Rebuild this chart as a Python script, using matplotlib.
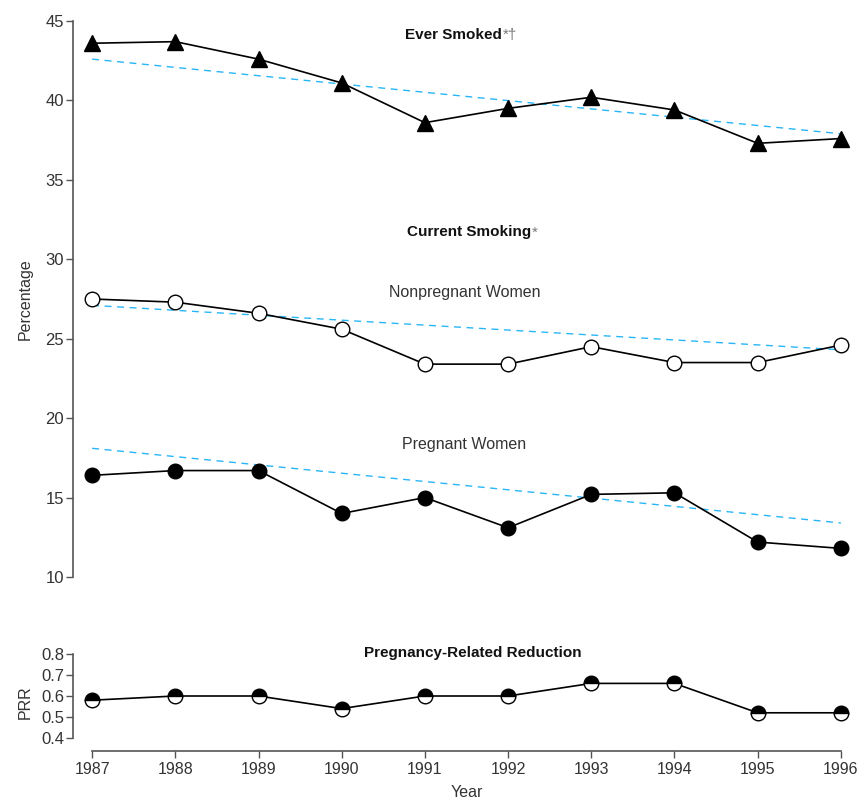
import matplotlib
matplotlib.use("Agg")
import matplotlib.pyplot as plt

plt.rcParams['font.family'] = ['Liberation Sans', 'DejaVu Sans']

years = [1987, 1988, 1989, 1990, 1991, 1992, 1993, 1994, 1995, 1996]
ever_smoked = [43.6, 43.7, 42.6, 41.1, 38.6, 39.5, 40.2, 39.4, 37.3, 37.6]
nonpregnant = [27.5, 27.3, 26.6, 25.6, 23.4, 23.4, 24.5, 23.5, 23.5, 24.6]
pregnant = [16.4, 16.7, 16.7, 14.0, 15.0, 13.1, 15.2, 15.3, 12.2, 11.8]
prr = [0.58, 0.60, 0.60, 0.54, 0.60, 0.60, 0.66, 0.66, 0.52, 0.52]

trend_years = [1987, 1996]
ever_trend = [42.6, 37.9]
nonpreg_trend = [27.1, 24.3]
preg_trend = [18.1, 13.4]

y_ticks = [10, 15, 20, 25, 30, 35, 40, 45]
prr_ticks = [0.4, 0.5, 0.6, 0.7, 0.8]

W, H = 867, 801
fig = plt.figure(figsize=(W / 100, H / 100), dpi=100)

axis_grey = '#555555'
text_grey = '#333333'
trend_color = '#29b6f6'

left = 73 / W
right = 860 / W
x0, x1 = 1986.77, 1996.23

# main panel: percentages
ax = fig.add_axes([left, 1 - 577 / H, right - left, (577 - 21) / H])
ax.set_xlim(x0, x1)
ax.set_ylim(10, 45)
for s in ['top', 'right', 'bottom']:
    ax.spines[s].set_visible(False)
ax.spines['left'].set_color(axis_grey)
ax.spines['left'].set_linewidth(1.2)
ax.set_xticks([])
ax.set_yticks(y_ticks)
ax.tick_params(axis='y', direction='out', length=5, width=1, color=axis_grey,
               labelsize=12, labelcolor=text_grey, pad=1.5)

dash = dict(color=trend_color, lw=1, linestyle=(0, (5, 4)))
ax.plot(trend_years, ever_trend, **dash)
ax.plot(trend_years, nonpreg_trend, **dash)
ax.plot(trend_years, preg_trend, **dash)

ax.plot(years, ever_smoked, color='black', lw=1.2, marker='^', ms=11,
        mfc='black', mec='black', clip_on=False, zorder=3)
ax.plot(years, nonpregnant, color='black', lw=1.2, marker='o', ms=10.5,
        mfc='white', mec='black', mew=1, clip_on=False, zorder=3)
ax.plot(years, pregnant, color='black', lw=1.2, marker='o', ms=10.5,
        mfc='black', mec='black', clip_on=False, zorder=3)

ax.set_ylabel('Percentage', fontsize=11.5, color=text_grey, labelpad=9)


def fig_text(xp, yp, s, **kw):
    fig.text(xp / W, 1 - yp / H, s, **kw)


fig_text(502, 35, 'Ever Smoked', ha='right', va='center', fontsize=11,
         fontweight='bold', color='#111111')
fig_text(503, 35, '*†', ha='left', va='center', fontsize=11, color='#777777')
fig_text(531, 232, 'Current Smoking', ha='right', va='center', fontsize=11,
         fontweight='bold', color='#111111')
fig_text(532, 233, '*', ha='left', va='center', fontsize=11, color='#777777')
fig_text(465, 293, 'Nonpregnant Women', ha='center', va='center', fontsize=11.5,
         color=text_grey)
fig_text(464, 445, 'Pregnant Women', ha='center', va='center', fontsize=11.5,
         color=text_grey)
fig_text(473, 653, 'Pregnancy-Related Reduction', ha='center', va='center',
         fontsize=11, fontweight='bold', color='#111111')

# PRR panel
bx = fig.add_axes([left, 1 - 751 / H, right - left, (751 - 654) / H])
bx.set_xlim(x0, x1)
prr_lo = 0.4 - 13 / 210
bx.set_ylim(prr_lo, 0.8)
for s in ['top', 'right']:
    bx.spines[s].set_visible(False)
for s in ['left', 'bottom']:
    bx.spines[s].set_color(axis_grey)
    bx.spines[s].set_linewidth(1.2)
bx.spines['left'].set_bounds(0.4, 0.8)
bx.spines['bottom'].set_bounds(years[0], years[-1])
bx.set_yticks(prr_ticks)
bx.set_yticklabels([f'{v:.1f}' for v in prr_ticks])
bx.set_xticks(years)
bx.tick_params(axis='y', direction='out', length=5, width=1, color=axis_grey,
               labelsize=12, labelcolor=text_grey, pad=1.5)
bx.tick_params(axis='x', direction='out', length=5, width=1, color=axis_grey,
               labelsize=11.5, labelcolor=text_grey, pad=3)
bx.plot(years, prr, color='black', lw=1.2, marker='o', ms=10.5,
        fillstyle='top', mfc='black', mfcalt='white', mec='black', mew=1,
        clip_on=False, zorder=3)
bx.set_ylabel('PRR', fontsize=11.5, color=text_grey, labelpad=6)
bx.set_xlabel('Year', fontsize=11.5, color=text_grey, labelpad=6)

fig.savefig('out.png', dpi=100)
